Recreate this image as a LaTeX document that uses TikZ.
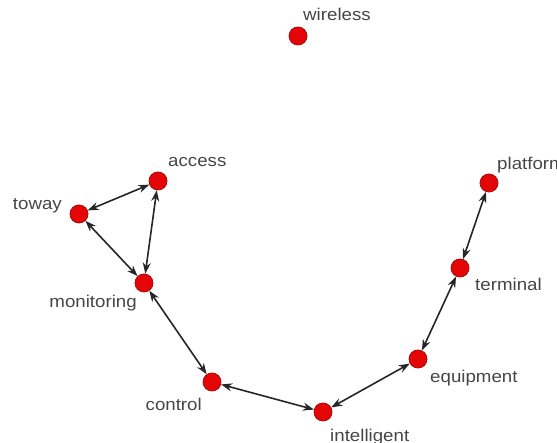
\documentclass[tikz,border=0pt]{standalone}
\usepackage{fontspec}
\setmainfont{Liberation Sans}
\usetikzlibrary{arrows.meta}

\definecolor{nodored}{RGB}{228,6,6}
\definecolor{bordored}{RGB}{170,10,10}
\definecolor{testo}{RGB}{70,70,70}

\begin{document}
\begin{tikzpicture}[x=1pt,y=-1pt,
    vertice/.style={circle,draw=bordored,fill=nodored,line width=0.8pt,minimum size=18pt,inner sep=0pt},
    etichetta/.style={text=testo,font=\fontsize{17}{20}\selectfont,xscale=1.1,inner sep=0pt,text height=1ex,text depth=0pt},
    arco/.style={{Stealth[length=11pt,width=8pt]}-{Stealth[length=11pt,width=8pt]},line width=1.6pt,black!85}]
  \useasboundingbox (0,0) rectangle (557,443);
  \clip (0,0) rectangle (557,443);

  % Vertici
  \node[vertice] (wireless) at (298,36) {};
  \node[vertice] (access) at (158,181) {};
  \node[vertice] (toway) at (79,214) {};
  \node[vertice] (monitoring) at (144,283) {};
  \node[vertice] (control) at (212,382) {};
  \node[vertice] (intelligent) at (323,412) {};
  \node[vertice] (equipment) at (418,359) {};
  \node[vertice] (terminal) at (460,268) {};
  \node[vertice] (platform) at (489,183) {};

  % Etichette
  \node[etichetta,anchor=west] (lblWireless) at (303,18) {wireless};
  \node[etichetta,anchor=west] (lblAccess) at (168,164) {access};
  \node[etichetta,anchor=east] (lblToway) at (62,207) {toway};
  \node[etichetta,anchor=east] (lblMonitoring) at (137,305) {monitoring};
  \node[etichetta,anchor=east] (lblControl) at (202,408) {control};
  \node[etichetta,anchor=west] (lblIntelligent) at (330,439) {intelligent};
  \node[etichetta,anchor=west] (lblEquipment) at (430,380) {equipment};
  \node[etichetta,anchor=west] (lblTerminal) at (475,288) {terminal};
  \node[etichetta,anchor=west] (lblPlatform) at (497,167) {platform};

  % Archi
  \draw[arco] (access) -- (toway);
  \draw[arco] (access) -- (monitoring);
  \draw[arco] (toway) -- (monitoring);
  \draw[arco] (monitoring) -- (control);
  \draw[arco] (control) -- (intelligent);
  \draw[arco] (intelligent) -- (equipment);
  \draw[arco] (equipment) -- (terminal);
  \draw[arco] (terminal) -- (platform);
\end{tikzpicture}
\end{document}
